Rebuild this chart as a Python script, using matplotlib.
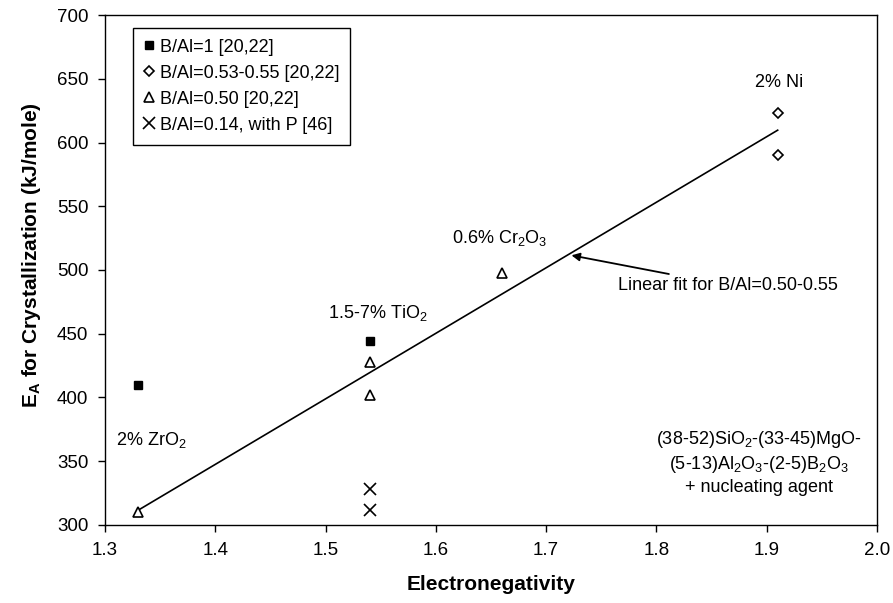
import numpy as np
import matplotlib.pyplot as plt

plt.rcParams['font.family'] = ['Liberation Sans', 'DejaVu Sans']
plt.rcParams['mathtext.fontset'] = 'custom'
plt.rcParams['mathtext.rm'] = 'Liberation Sans'
plt.rcParams['mathtext.bf'] = 'Liberation Sans:bold'
plt.rcParams['mathtext.default'] = 'rm'

# B/Al=1 [20,22]
sq_x = [1.33, 1.54]
sq_y = [410, 444]
# B/Al=0.53-0.55 [20,22]
dia_x = [1.91, 1.91]
dia_y = [623, 590]
# B/Al=0.50 [20,22]
tri_x = [1.33, 1.54, 1.54, 1.66]
tri_y = [310, 428, 402, 498]
# B/Al=0.14, with P [46]
cross_x = [1.54, 1.54]
cross_y = [328, 312]

labels = ["B/Al=1 [20,22]", "B/Al=0.53-0.55 [20,22]",
          "B/Al=0.50 [20,22]", "B/Al=0.14, with P [46]"]

fig = plt.figure(figsize=(8.93, 6.03), dpi=100)
ax = fig.add_axes([0.1176, 0.1294, 0.8644, 0.8457])

ax.plot(sq_x, sq_y, 's', color='black', markersize=5.5, label=labels[0])
ax.plot(dia_x, dia_y, 'D', mfc='white', mec='black', mew=1.2, markersize=5.5,
        label=labels[1])
ax.plot(tri_x, tri_y, '^', mfc='white', mec='black', mew=1.2, markersize=7.5,
        label=labels[2])
ax.plot(cross_x, cross_y, 'x', color='black', mew=1.2, markersize=8.5,
        label=labels[3])

# linear fit through the B/Al=0.50-0.55 points
fx = np.array(tri_x + dia_x)
fy = np.array(tri_y + dia_y)
k, b = np.polyfit(fx, fy, 1)
xl = np.array([fx.min(), fx.max()])
ax.plot(xl, k * xl + b, color='black', lw=1.2, zorder=1)

fs = 13
ax.text(1.911, 647, "2% Ni", fontsize=fs, ha='center', va='center')
ax.text(1.658, 525, "0.6% Cr$_2$O$_3$", fontsize=fs, ha='center', va='center')
ax.text(1.547, 466, "1.5-7% TiO$_2$", fontsize=fs, ha='center', va='center')
ax.text(1.342, 367, "2% ZrO$_2$", fontsize=fs, ha='center', va='center')
ax.text(1.893, 349, "(38-52)SiO$_2$-(33-45)MgO-\n(5-13)Al$_2$O$_3$-(2-5)B$_2$O$_3$\n+ nucleating agent",
        fontsize=fs, ha='center', va='center', linespacing=1.3)
ax.annotate("Linear fit for B/Al=0.50-0.55", xy=(1.723, 511.5), xytext=(1.765, 488),
            fontsize=fs, va='center', ha='left',
            arrowprops=dict(arrowstyle='-|>', color='black', lw=1.3,
                            mutation_scale=12, shrinkA=0, shrinkB=0))

ax.set_xlim(1.3, 2.0)
ax.set_ylim(300, 700)
ax.set_xticks(np.arange(1.3, 2.01, 0.1))
ax.set_xticklabels(["1.3", "1.4", "1.5", "1.6", "1.7", "1.8", "1.9", "2.0"])
ax.set_yticks(np.arange(300, 701, 50))
ax.tick_params(labelsize=13.5, direction='out', length=5, width=1, pad=7)
for s in ax.spines.values():
    s.set_linewidth(1)

ax.set_xlabel("Electronegativity", fontsize=15, fontweight='bold', labelpad=12)
ax.set_ylabel(r"E$_\mathbf{A}$ for Crystallization (kJ/mole)", fontsize=15,
              fontweight='bold')
ax.yaxis.set_label_coords(-0.08, 0.53)

leg = ax.legend(loc='upper left', bbox_to_anchor=(0.036, 0.975), borderaxespad=0,
                fontsize=13, handlelength=0.6, handletextpad=0.3,
                labelspacing=0.5, fancybox=False, edgecolor='black',
                framealpha=1, borderpad=0.6)
leg.get_frame().set_linewidth(1)

fig.savefig("out.png", dpi=100)
